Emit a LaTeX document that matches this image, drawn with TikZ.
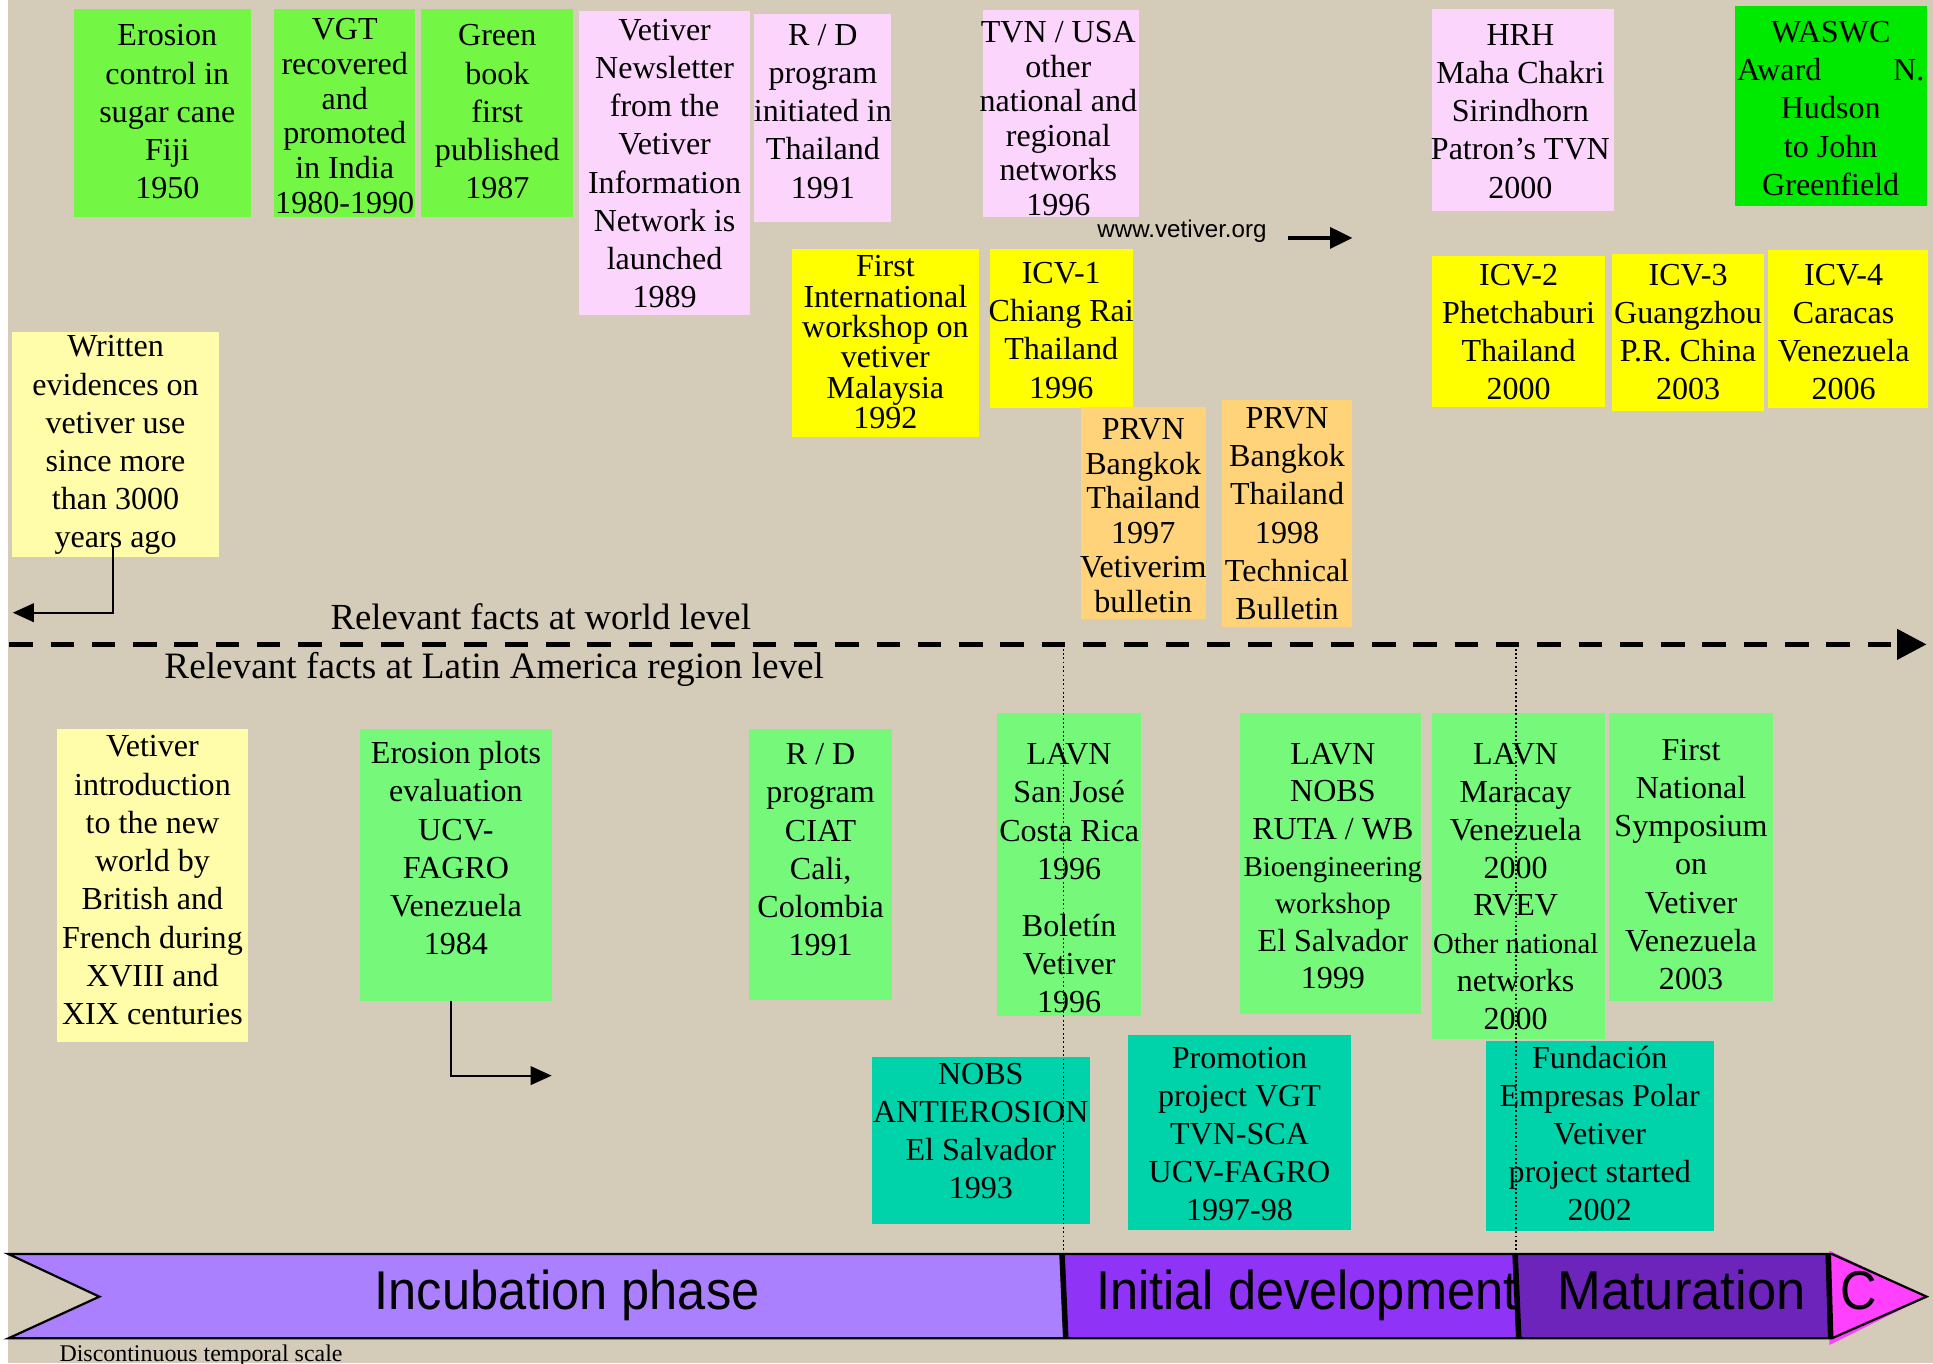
\documentclass[tikz,border=0pt]{standalone}
\usepackage{fontspec}
\usepackage{graphicx}
\setmainfont{Liberation Serif}
\newfontfamily\sansf{Liberation Sans}
\usetikzlibrary{arrows.meta}
\definecolor{lime}{HTML}{74F744}
\definecolor{wgreen}{HTML}{00EA00}
\definecolor{pinkb}{HTML}{FCD5FC}
\definecolor{yelb}{HTML}{FFFF00}
\definecolor{orab}{HTML}{FFD37A}
\definecolor{lyel}{HTML}{FFFCAA}
\definecolor{mint}{HTML}{76F97A}
\definecolor{teal2}{HTML}{00D3AA}
\definecolor{bgc}{HTML}{D4CCB8}
\definecolor{inc}{HTML}{AB80FF}
\definecolor{ini}{HTML}{8F33F6}
\definecolor{mat}{HTML}{6D24BB}
\definecolor{magc}{HTML}{FF40FF}
\newcommand\fz[1]{\fontsize{26}{#1}\selectfont}
\newcommand\mkbox[9]{%
  \node[bx,fill=#2,minimum width={#5-#3},minimum height={#6-#4}] (#1) at ({(#3+#5)/2},{(#4+#6)/2}) {};
  \node[tx,#7] (#1t) at ({(#3+#5)/2},{#8-20}) {\rule{0pt}{20pt}#9};}
\tikzset{
  bx/.style={rectangle,draw=none,inner sep=0pt,outer sep=0pt},
  tx/.style={anchor=north,inner sep=0pt,align=center,font=\fz{31}},
  lbl/.style={anchor=base west,inner sep=0pt},
  bartx/.style={anchor=base,inner sep=0pt,font=\sansf\fontsize{41}{41}\selectfont},
  conn/.style={line width=1.7pt,-{Triangle[length=17pt,width=15pt]}},
  webarrow/.style={line width=2.7pt,-{Triangle[length=18pt,width=17pt]}},
  dotl/.style={line width=0.9pt,dash pattern=on 1.5pt off 2pt},
  worldline/.style={line width=4.6pt,dash pattern=on 19pt off 14.5pt,-{Triangle[length=24pt,width=24pt]}},
  divider/.style={line width=4.5pt}
}
\begin{document}
\begin{tikzpicture}[x=1pt,y=-1pt]
\useasboundingbox (0,0) rectangle (1568,1106);
\fill[white] (0,0) rectangle (1568,1106);
\fill[bgc] (6.5,0) rectangle (1568,1106);

% world level boxes
\mkbox{b1}{lime}{60.2}{7.6}{203.3}{175.8}{xshift=4pt}{37}{Erosion\\control in\\sugar cane\\Fiji\\1950}
\mkbox{b2}{lime}{222.2}{7.6}{337}{175.8}{font=\fz{28.2}}{31.9}{VGT\\recovered\\and\\promoted\\in India\\1980-1990}
\mkbox{b3}{lime}{341.7}{7.6}{465.1}{175.8}{}{37}{Green\\book\\first\\published\\1987}
\mkbox{b4}{pinkb}{469.9}{8.9}{608.3}{255.5}{}{32.4}{Vetiver\\Newsletter\\from the\\Vetiver\\Information\\Network is\\launched\\1989}
\mkbox{b5}{pinkb}{612}{11}{723}{180}{}{36.5}{R / D\\program\\initiated in\\Thailand\\1991}
\mkbox{b6}{pinkb}{797}{8}{924}{176}{font=\fz{28},xshift=-2pt}{34.3}{TVN / USA\\other\\national and\\regional\\networks\\1996}
\mkbox{b7}{pinkb}{1161.6}{7.6}{1309}{171}{xshift=-2pt}{36.5}{HRH\\Maha Chakri\\Sirindhorn\\Patron’s TVN\\2000}
\mkbox{b8}{wgreen}{1407}{4.9}{1563}{166.9}{}{34.3}{WASWC\\\makebox[152pt]{Award\hfill N.}\\Hudson\\to John\\Greenfield}
\mkbox{b9}{yelb}{642.4}{202.2}{794}{354.7}{font=\fz{24.6}}{224.4}{First\\International\\workshop on\\vetiver\\Malaysia\\1992}
\mkbox{b10}{yelb}{802.7}{202.2}{919}{331.2}{}{229.8}{ICV-1\\Chiang Rai\\Thailand\\1996}
\mkbox{b11}{yelb}{1161.6}{207.7}{1302}{330.4}{}{231.2}{ICV-2\\Phetchaburi\\Thailand\\2000}
\mkbox{b12}{yelb}{1307.6}{206}{1431}{333.4}{}{231.2}{ICV-3\\Guangzhou\\P.R. China\\2003}
\mkbox{b13}{yelb}{1434}{202.8}{1564}{331}{xshift=-3.5pt}{231.2}{ICV-4\\Caracas\\Venezuela\\2006}
\mkbox{b14}{orab}{876.5}{329.9}{978.2}{502.1}{font=\fz{28}}{356.4}{PRVN\\Bangkok\\Thailand\\1997\\Vetiverim\\bulletin}
\mkbox{b15}{orab}{991.3}{324.5}{1096.7}{508.9}{}{347.4}{PRVN\\Bangkok\\Thailand\\1998\\Technical\\Bulletin}
\mkbox{b16}{lyel}{9.5}{269}{178}{451.6}{}{289.3}{Written\\evidences on\\vetiver use\\since more\\than 3000\\years ago}

% Latin America boxes
\mkbox{b17}{lyel}{46}{591.6}{201.3}{845.5}{}{613.8}{Vetiver\\introduction\\to the new\\world by\\British and\\French during\\XVIII and\\XIX centuries}
\mkbox{b18}{mint}{292.2}{591.6}{447.5}{811.7}{}{619.2}{Erosion plots\\evaluation\\UCV-\\FAGRO\\Venezuela\\1984}
\mkbox{b19}{mint}{607.6}{591.6}{723.7}{811.2}{}{620}{R / D\\program\\CIAT\\Cali,\\Colombia\\1991}
\mkbox{b20}{mint}{808.9}{578.3}{925.6}{824.2}{}{620}{LAVN\\San José\\Costa Rica\\1996\\[15.2pt]Boletín\\Vetiver\\1996}
\mkbox{b21}{mint}{1005.8}{578.3}{1152.6}{822.8}{font=\fz{30.3},xshift=2pt}{620}{LAVN\\NOBS\\RUTA / WB\\{\fontsize{23.5}{30.3}\selectfont Bioengineering}\\{\fontsize{23.8}{30.3}\selectfont workshop}\\El Salvador\\1999}
\mkbox{b22}{mint}{1161.9}{578.3}{1302}{843}{font=\fz{30.7},xshift=-2.5pt}{620}{LAVN\\Maracay\\Venezuela\\2000\\RVEV\\{\fontsize{23.3}{30.7}\selectfont Other national}\\networks\\2000}
\mkbox{b23}{mint}{1305}{578.3}{1438.4}{811.7}{}{616.5}{First\\National\\Symposium\\on\\Vetiver\\Venezuela\\2003}
\mkbox{b24}{teal2}{707}{857.5}{884.2}{993.1}{}{879.2}{NOBS\\ANTIEROSION\\El Salvador\\1993}
\mkbox{b25}{teal2}{915}{839.6}{1095.9}{997.4}{}{866.2}{Promotion\\project VGT\\TVN-SCA\\UCV-FAGRO\\1997-98}
\mkbox{b26}{teal2}{1205}{844.6}{1390.3}{998.6}{}{866.2}{Fundación\\Empresas Polar\\Vetiver\\project started\\2002}

% labels
\node[lbl,font=\sansf\fontsize{19.6}{20}\selectfont] (www) at (890,192.5) {www.vetiver.org};
\node[lbl,font=\fontsize{29.8}{30}\selectfont] (rw) at (268,511) {Relevant facts at world level};
\node[lbl,font=\fontsize{30.2}{30}\selectfont] (rl) at (133.2,550.2) {Relevant facts at Latin America region level};
\node[lbl,font=\fontsize{19.4}{20}\selectfont] (dts) at (48.1,1104.5) {Discontinuous temporal scale};

% connectors
\coordinate (va) at (1045,193);
\coordinate (vb) at (1097,193);
\draw[webarrow] (va) -- (vb);
\coordinate (wa) at (91.9,443);
\coordinate (wb) at (10.4,497);
\draw[conn] (wa) |- (wb);
\coordinate (ea) at (365.7,811.7);
\coordinate (eb) at (447.5,872.5);
\draw[conn] (b18.south -| ea) |- (eb);
\coordinate (wl) at (7.5,522.7);
\coordinate (wr) at (1562.8,522.7);
\draw[worldline] (wl) -- (wr);
\coordinate (d1a) at (862.6,522.7);
\coordinate (d1b) at (862.6,1017);
\coordinate (d2a) at (1229.7,522.7);
\coordinate (d2b) at (1229.7,1017);
\draw[dotl] (d1a) -- (d1b);
\draw[dotl] (d2a) -- (d2b);

% phase bar
\fill[inc] (6.8,1017.2) -- (863,1017.2) -- (863,1085.6) -- (6.8,1085.6) -- (80.6,1051.8) -- cycle;
\fill[ini] (863,1017.2) rectangle (1230.5,1085.6);
\fill[mat] (1230.5,1017.2) rectangle (1484,1085.6);
\fill[magc] (1484,1014.5) -- (1562.8,1051.8) -- (1484,1091) -- cycle;
\draw[line width=1.8pt,line join=miter] (6.8,1017.2) -- (1486,1017.2) -- (1562.8,1051.8) -- (1486,1085.6) -- (6.8,1085.6) -- (80.6,1051.8) -- cycle;
\draw[divider] (861.5,1017.2) -- (864.5,1085.6);
\draw[divider] (1229,1017.2) -- (1232,1085.6);
\draw[divider] (1483,1017.2) -- (1485,1085.6);
\node[bartx] (p1) at (460,1062) {\scalebox{1}[1.08]{Incubation phase}};
\node[bartx] (p2) at (1060,1062) {\scalebox{1}[1.08]{Initial development}};
\node[bartx] (p3) at (1364,1062) {\scalebox{1.04}[1.08]{Maturation}};
\node[bartx] (p4) at (1507.5,1062) {\scalebox{1}[1.08]{C}};
\end{tikzpicture}
\end{document}
